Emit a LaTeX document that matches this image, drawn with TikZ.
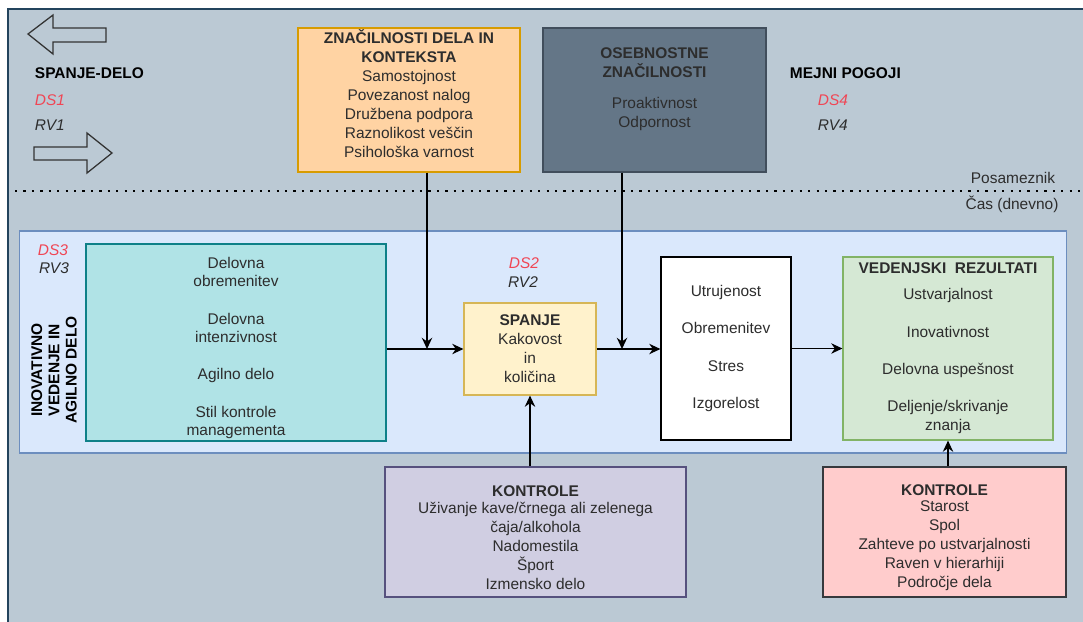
\documentclass[tikz,border=0pt]{standalone}
\usepackage{fontspec}
\setmainfont{Liberation Sans}
\usetikzlibrary{arrows.meta,positioning}

\definecolor{okvirF}{RGB}{187,201,212}
\definecolor{okvirD}{RGB}{35,68,93}
\definecolor{notrF}{RGB}{218,232,252}
\definecolor{notrD}{RGB}{108,142,191}
\definecolor{oranF}{RGB}{255,211,163}
\definecolor{oranD}{RGB}{215,155,0}
\definecolor{sivF}{RGB}{100,118,135}
\definecolor{sivD}{RGB}{65,78,92}
\definecolor{tealF}{RGB}{176,227,230}
\definecolor{tealD}{RGB}{14,128,136}
\definecolor{rumF}{RGB}{255,242,204}
\definecolor{rumD}{RGB}{214,182,86}
\definecolor{zelF}{RGB}{213,232,212}
\definecolor{zelD}{RGB}{130,179,102}
\definecolor{vijF}{RGB}{208,206,226}
\definecolor{vijD}{RGB}{86,81,126}
\definecolor{rozF}{RGB}{255,204,204}
\definecolor{rozD}{RGB}{54,57,61}
\definecolor{dsred}{RGB}{240,70,85}
\definecolor{txt}{RGB}{45,45,45}
\newcommand{\fsz}{\fontsize{11}{13.5}\selectfont}

\begin{document}
\begin{tikzpicture}[x=0.025cm,y=-0.025cm,
  box/.style={draw,line width=0.8pt,align=center,font=\fsz,text=txt},
  lbl/.style={font=\fsz,text=txt},
  ds/.style={font=\fsz\itshape,text=dsred},
  rv/.style={font=\fsz\itshape,text=txt},
  a/.style={-{Stealth[length=2.8mm,width=2.6mm]},line width=0.9pt,draw=black},
  siroka/.style={draw=black!80,line width=0.9pt}]
\useasboundingbox (0,0) rectangle (1083,621);
\clip (0,0) rectangle (1083,621);
\draw[fill=okvirF,draw=okvirD,line width=1.5pt] (8,9) rectangle (1100,640);

% puscici spanje-delo
\draw[siroka] (28,34) -- (53,15) -- (53,28) -- (106,28) -- (106,42) -- (53,42) -- (53,54) -- cycle;
\draw[siroka] (112,153) -- (87,133) -- (87,147) -- (34,147) -- (34,160) -- (87,160) -- (87,173) -- cycle;
\node[lbl,anchor=west,font=\fsz\bfseries,text=black] (sd) at (30,73) {SPANJE-DELO};
\node[ds,anchor=west] (ds1) at (30,100) {DS1};
\node[rv,anchor=west] (rv1) at (30,125) {RV1};

\node[lbl,anchor=west,font=\fsz\bfseries,text=black] (mp) at (785,73) {MEJNI POGOJI};
\node[ds,anchor=west] (ds4) at (813,100) {DS4};
\node[rv,anchor=west] (rv4) at (813,125) {RV4};

% zgornja okvirja
\node[box,draw=oranD,fill=oranF,minimum width=5.55cm,minimum height=3.6cm] (zdk) at (409,100) {};
\node[lbl,align=center] (zdkt) at ([yshift=4.3pt]zdk.center)
  {\textbf{ZNAČILNOSTI DELA IN}\\\textbf{KONTEKSTA}\\Samostojnost\\Povezanost nalog\\Družbena podpora\\Raznolikost veščin\\Psihološka varnost};
\node[box,draw=sivD,fill=sivF,minimum width=5.575cm,minimum height=3.6cm] (osb) at (654.5,100) {};
\node[lbl,align=center] (osbt) at ([yshift=7.5pt]osb.center)
  {\textbf{OSEBNOSTNE}\\\textbf{ZNAČILNOSTI}\\[8.5pt]Proaktivnost\\Odpornost};

% locnica
\draw[line width=1.6pt,dash pattern=on 1.6pt off 4.4pt] (15,191) -- (1083,191);
\node[lbl] (pos) at (1013,178) {Posameznik};
\node[lbl] (cas) at (1012,204) {Čas (dnevno)};

% dnevna raven
\node[draw=notrD,fill=notrF,line width=0.8pt,minimum width=26.15cm,minimum height=5.55cm] (dnev) at (543,342) {};
\node[lbl,rotate=90,align=center,font=\fontsize{11}{12.3}\selectfont\bfseries,text=black] (ivd) at (54,370)
  {INOVATIVNO\\VEDENJE IN\\AGILNO DELO};
\node[ds] (ds3) at (53,250) {DS3};
\node[rv] (rv3) at (54,268) {RV3};
\node[ds] (ds2) at (524,263) {DS2};
\node[rv] (rv2) at (523,282) {RV2};

\node[box,draw=tealD,fill=tealF,minimum width=7.5cm,minimum height=4.925cm] (agil) at (236,342.5) {};
\node[lbl,align=center,font=\fontsize{11}{12.8}\selectfont] (agilt) at ([yshift=-3.8pt]agil.center)
  {Delovna\\obremenitev\\[14pt]Delovna\\intenzivnost\\[14pt]Agilno delo\\[14pt]Stil kontrole\\managementa};
\node[box,draw=rumD,fill=rumF,minimum width=3.3cm,minimum height=2.3cm] (spa) at (530,349)
  {\textbf{SPANJE}\\Kakovost\\in\\količina};
\node[box,draw=black,fill=white,minimum width=3.25cm,minimum height=4.575cm] (bel) at (726,348.5)
  {Utrujenost\\[13pt]Obremenitev\\[13pt]Stres\\[13pt]Izgorelost};
\node[box,draw=zelD,fill=zelF,minimum width=5.25cm,minimum height=4.575cm] (rez) at (948,348.5)
  {\textbf{VEDENJSKI\ \ REZULTATI}\\[5pt]Ustvarjalnost\\[13pt]Inovativnost\\[13pt]Delovna uspešnost\\[13pt]Deljenje/skrivanje\\znanja};

% kontrole
\node[box,draw=vijD,fill=vijF,minimum width=7.525cm,minimum height=3.25cm] (kp) at (535.5,532) {};
\node[lbl,align=center] (kpt) at ([yshift=-4pt]kp.center)
  {\textbf{KONTROLE}\\[-2pt]Uživanje kave/črnega ali zelenega\\čaja/alkohola\\Nadomestila\\Šport\\Izmensko delo};
\node[box,draw=rozD,fill=rozF,minimum width=6.075cm,minimum height=3.25cm] (kr) at (944.5,532) {};
\node[lbl,align=center] (krt) at ([yshift=-4pt]kr.center)
  {\textbf{KONTROLE}\\[-2pt]Starost\\Spol\\Zahteve po ustvarjalnosti\\Raven v hierarhiji\\Področje dela};

% povezave
\coordinate (j1) at (427,349);
\coordinate (j2) at (622,349);
\draw[a] (agil.east |- spa.west) -- (spa.west);
\draw[a] (zdk.south -| j1) -- (j1);
\draw[a] (spa.east) -- (spa.east -| bel.west);
\draw[a] (osb.south -| j2) -- (j2);
\draw[a] (bel.east) -- (rez.west);
\draw[a] (kp.north -| spa.south) -- (spa.south);
\draw[a] (kr.north -| rez.south) -- (rez.south);
\end{tikzpicture}
\end{document}
